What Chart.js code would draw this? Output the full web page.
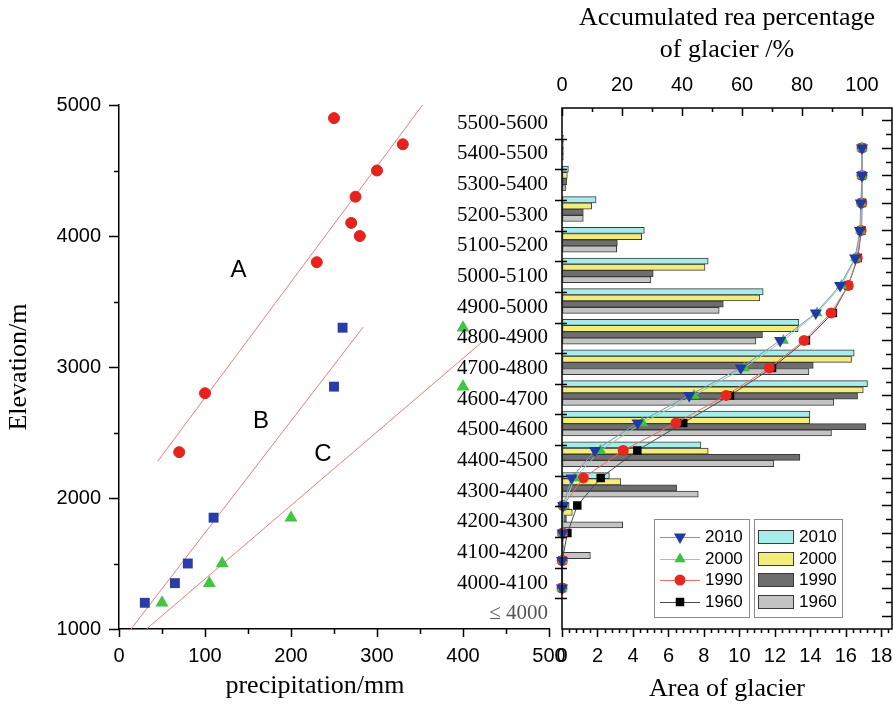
<!DOCTYPE html>
<html>
<head>
<meta charset="utf-8">
<script src="https://cdn.jsdelivr.net/npm/chart.js@4.4.1/dist/chart.umd.min.js"></script>
<style>
body { margin: 0; background: #fff; }
#wrap { position: relative; width: 893px; height: 705px; }
#wrap canvas { position: absolute; left: 0; top: 0; }
</style>
</head>
<body>
<div id="wrap">
  <canvas id="left" width="893" height="705"></canvas>
  <canvas id="right" width="893" height="705"></canvas>
</div>
<script>
const SANS = "'Liberation Sans', Arial, sans-serif";
const SERIF = "'Liberation Serif', 'Times New Roman', serif";

// left panel: precipitation vs elevation
const precipA = [250, 330, 300, 275, 270, 280, 230, 100, 70];
const elevA = [4900, 4700, 4500, 4300, 4100, 4000, 3800, 2800, 2350];
const precipB = [260, 250, 110, 80, 65, 30];
const elevB = [3300, 2850, 1850, 1500, 1350, 1200];
const precipC = [400, 400, 200, 120, 105, 50];
const elevC = [3300, 2850, 1850, 1500, 1350, 1200];
const fitA = [[45, 2280], [353, 5000]];
const fitB = [[14, 1000], [284, 3305]];
const fitC = [[32, 1000], [429, 3229]];
const curveNames = ['A', 'B', 'C'];
const curveNamePos = [[139, 3740], [165, 2588], [237, 2336]];

// right panel: glacier area per elevation band (top band first)
const bands = ['5500-5600', '5400-5500', '5300-5400', '5200-5300', '5100-5200', '5000-5100',
  '4900-5000', '4800-4900', '4700-4800', '4600-4700', '4500-4600', '4400-4500',
  '4300-4400', '4200-4300', '4100-4200', '4000-4100', '≤ 4000'];
const years = ['2010', '2000', '1990', '1960'];
const area2010 = [0, 0.08, 0.36, 1.92, 4.64, 8.24, 11.34, 13.35, 16.47, 17.22, 13.97, 7.83, 2.67, 0.4, 0.08, 0.05, 0];
const area2000 = [0, 0.08, 0.3, 1.67, 4.49, 8.06, 11.15, 13.31, 16.32, 16.98, 13.97, 8.24, 3.32, 0.58, 0.08, 0.05, 0];
const area1990 = [0, 0.08, 0.26, 1.2, 3.12, 5.14, 9.09, 11.3, 14.16, 16.66, 17.13, 13.41, 6.46, 0.25, 0.08, 0.05, 0];
const area1960 = [0, 0.08, 0.2, 1.2, 3.08, 5.01, 8.86, 10.93, 13.92, 15.32, 15.19, 11.94, 7.68, 3.42, 1.6, 0.05, 0];

// accumulated area percentage, lowest band (≤ 4000) first
const cum2010 = [0, 0, 0.2, 0.4, 3.2, 11.0, 25.2, 42.4, 59.6, 72.7, 84.6, 92.7, 97.7, 99.3, 99.6, 100, 100];
const cum2000 = [0, 0.05, 0.1, 0.7, 4.2, 12.8, 26.8, 44.0, 60.8, 73.8, 85.0, 93.2, 97.9, 99.6, 99.9, 100, 100];
const cum1990 = [0, 0.1, 0.2, 0.4, 7.1, 20.4, 38.0, 54.7, 69.1, 80.7, 89.7, 95.4, 98.4, 99.7, 99.9, 100, 100];
const cum1960 = [0, 0.1, 1.8, 5.1, 12.9, 25.1, 40.4, 56.0, 70.0, 81.3, 90.3, 95.4, 98.6, 99.8, 100, 100, 100];

const barColors = ['#a6ecea', '#f2ec78', '#6e6e6e', '#c4c4c4'];
const lineStyle = [
  { c: '#1f3aa6', l: '#7d8ee0', s: 'triangle', r: 7, rot: 180 },
  { c: '#3bc43b', l: '#8ad88a', s: 'triangle', r: 6.5, rot: 0 },
  { c: '#e6261f', l: '#ef6a62', s: 'circle', r: 5.5, rot: 0 },
  { c: '#000000', l: '#4a4a4a', s: 'rect', r: 6, rot: 0 }
];

function toPoints(xs, ys) {
  return xs.map((v, i) => ({ x: v, y: ys[i] }));
}

function marks(ctx, scale, values, at, len, sign) {
  ctx.beginPath();
  values.forEach(v => {
    const p = Math.round(scale.getPixelForValue(v)) + 0.5;
    if (scale.isHorizontal()) {
      ctx.moveTo(p, at);
      ctx.lineTo(p, at + sign * len);
    } else {
      ctx.moveTo(at, p);
      ctx.lineTo(at + sign * len, p);
    }
  });
  ctx.stroke();
}

// invisible tick marks only reserve space between axis line and labels
const hiddenTicks = len => ({ display: true, drawOnChartArea: false, drawTicks: true, tickLength: len, color: 'rgba(0,0,0,0)' });

// fixed axis box sizes, no label overflow padding
const fixH = h => s => { s.height = h; s.paddingLeft = 0; s.paddingRight = 0; };
const fixW = w => s => { s.width = w; s.paddingTop = 0; s.paddingBottom = 0; };

const leftDecor = {
  id: 'leftDecor',
  afterDraw(chart) {
    const ctx = chart.ctx;
    const { x, y } = chart.scales;
    const ca = chart.chartArea;
    ctx.save();
    ctx.strokeStyle = '#000';
    ctx.lineWidth = 1.5;
    marks(ctx, y, [1000, 2000, 3000, 4000, 5000], ca.left, 10, -1);
    marks(ctx, y, [1500, 2500, 3500, 4500], ca.left, 5, -1);
    marks(ctx, x, [0, 100, 200, 300, 400, 500], ca.bottom, 8, 1);
    marks(ctx, x, [50, 150, 250, 350, 450], ca.bottom, 5, 1);

    ctx.fillStyle = '#000';
    ctx.textAlign = 'center';
    ctx.textBaseline = 'middle';
    ctx.font = '24px ' + SANS;
    curveNames.forEach((n, i) => {
      ctx.fillText(n, x.getPixelForValue(curveNamePos[i][0]), y.getPixelForValue(curveNamePos[i][1]));
    });
    ctx.font = '26px ' + SERIF;
    ctx.fillText('precipitation/mm', 315, 686);
    ctx.restore();
  }
};

const fitLine = (pts) => ({
  data: pts.map(p => ({ x: p[0], y: p[1] })),
  showLine: true,
  borderColor: '#f07c7c',
  borderWidth: 1,
  pointRadius: 0
});

new Chart(document.getElementById('left'), {
  type: 'scatter',
  data: {
    datasets: [
      { data: toPoints(precipA, elevA), pointStyle: 'circle', pointRadius: 5.5, backgroundColor: '#e5221c', borderColor: '#e5221c', borderWidth: 1 },
      { data: toPoints(precipB, elevB), pointStyle: 'rect', pointRadius: 7, backgroundColor: '#2a3da6', borderColor: '#2a3da6', borderWidth: 0 },
      { data: toPoints(precipC, elevC), pointStyle: 'triangle', pointRadius: 7.5, backgroundColor: '#43c443', borderColor: '#43c443', borderWidth: 0, clip: false },
      fitLine(fitA),
      fitLine(fitB),
      fitLine(fitC)
    ]
  },
  options: {
    responsive: false,
    animation: false,
    devicePixelRatio: 1,
    layout: { autoPadding: false, padding: { top: 105, right: 344, left: 0, bottom: 0 } },
    plugins: { legend: { display: false }, tooltip: { enabled: false } },
    scales: {
      x: {
        type: 'linear', min: 0, max: 500,
        grid: { display: false, drawTicks: false },
        border: { display: true, color: '#000', width: 1.5 },
        ticks: { stepSize: 100, padding: 15, maxRotation: 0, color: '#000', font: { family: SANS, size: 20 }, callback: v => String(v) },
        afterFit: fixH(76)
      },
      y: {
        type: 'linear', min: 1000, max: 5000,
        grid: { display: false, drawTicks: false },
        border: { display: true, color: '#000', width: 1.5 },
        ticks: { stepSize: 1000, padding: 18, color: '#000', font: { family: SANS, size: 20 }, callback: v => String(v) },
        title: { display: true, text: 'Elevation/m', color: '#000', font: { family: SERIF, size: 26 }, padding: { top: 4, bottom: 0 } },
        afterFit: fixW(119)
      }
    }
  },
  plugins: [leftDecor]
});

const rightDecor = {
  id: 'rightDecor',
  afterDraw(chart) {
    const ctx = chart.ctx;
    const ca = chart.chartArea;
    const { x, x2, y, yl } = chart.scales;
    ctx.save();
    ctx.strokeStyle = '#000';
    ctx.lineWidth = 1.5;
    ctx.strokeRect(ca.left, ca.top, ca.right - ca.left, ca.bottom - ca.top);

    // bottom axis
    marks(ctx, x, [0, 2, 4, 6, 8, 10, 12, 14, 16, 18], ca.bottom, 8, 1);
    const minorX = [];
    for (let i = 1; i * 0.4 < x.max; i++) if (i % 5 !== 0) minorX.push(i * 0.4);
    marks(ctx, x, minorX, ca.bottom, 4, 1);
    // top axis, inward
    marks(ctx, x2, [0, 20, 40, 60, 80, 100], ca.top, 8, 1);
    marks(ctx, x2, [10, 30, 50, 70, 90], ca.top, 4, 1);
    // category boundaries on the left
    ctx.beginPath();
    const step = (y.bottom - y.top) / bands.length;
    for (let i = 1; i < bands.length; i++) {
      const p = Math.round(y.top + i * step) + 0.5;
      ctx.moveTo(ca.left - 7, p);
      ctx.lineTo(ca.left + 5, p);
    }
    ctx.stroke();
    // right axis, inward
    const majorK = [], minorK = [];
    for (let k = -1; k <= 17; k++) {
      if (k >= yl.min && k <= yl.max) majorK.push(k);
      if (k + 0.5 >= yl.min && k + 0.5 <= yl.max) minorK.push(k + 0.5);
    }
    marks(ctx, yl, majorK, ca.right, 10, -1);
    marks(ctx, yl, minorK, ca.right, 6, -1);

    // legends
    ctx.lineWidth = 1;
    ctx.strokeStyle = '#8a8a8a';
    ctx.strokeRect(654.5, 519.5, 95, 98);
    ctx.strokeRect(754.5, 519.5, 88, 98);
    const rows = [537, 559, 580, 602];
    ctx.font = '17px ' + SANS;
    ctx.textBaseline = 'middle';
    ctx.textAlign = 'left';
    lineStyle.forEach((st, i) => {
      const ry = rows[i];
      ctx.strokeStyle = st.l;
      ctx.beginPath();
      ctx.moveTo(660, ry + 0.5);
      ctx.lineTo(700, ry + 0.5);
      ctx.stroke();
      ctx.fillStyle = st.c;
      ctx.strokeStyle = st.c;
      Chart.helpers.drawPoint(ctx, { pointStyle: st.s, radius: st.r, rotation: st.rot, borderWidth: 0 }, 680, ry);
      ctx.fillStyle = '#000';
      ctx.fillText(years[i], 705, ry);

      ctx.fillStyle = barColors[i];
      ctx.fillRect(758, ry - 7, 36, 14);
      ctx.strokeStyle = '#3a3a3a';
      ctx.strokeRect(758.5, ry - 6.5, 35, 13);
      ctx.fillStyle = '#000';
      ctx.fillText(years[i], 799, ry);
    });
    ctx.restore();
  }
};

const barSets = [area2010, area2000, area1990, area1960].map((d, i) => ({
  type: 'bar',
  label: years[i],
  data: d,
  indexAxis: 'y',
  xAxisID: 'x',
  yAxisID: 'y',
  backgroundColor: barColors[i],
  borderColor: '#3a3a3a',
  borderWidth: 1,
  borderSkipped: false,
  barThickness: 6.2,
  order: 2
}));

const lineSets = [cum2010, cum2000, cum1990, cum1960].map((d, i) => ({
  type: 'line',
  label: years[i],
  data: d.map((v, k) => ({ x: v, y: k })),
  xAxisID: 'x2',
  yAxisID: 'yl',
  borderColor: lineStyle[i].l,
  borderWidth: 1,
  pointStyle: lineStyle[i].s,
  pointRadius: lineStyle[i].r,
  pointRotation: lineStyle[i].rot,
  pointBackgroundColor: lineStyle[i].c,
  pointBorderColor: lineStyle[i].c,
  pointBorderWidth: 0,
  tension: 0,
  clip: false,
  order: 1
}));

new Chart(document.getElementById('right'), {
  type: 'bar',
  data: { labels: bands, datasets: lineSets.concat(barSets) },
  options: {
    responsive: false,
    animation: false,
    devicePixelRatio: 1,
    layout: { autoPadding: false, padding: { top: 0, right: 1, left: 0, bottom: 0 } },
    plugins: { legend: { display: false }, tooltip: { enabled: false } },
    scales: {
      x: {
        type: 'linear', position: 'bottom', min: 0, max: 18.6, offset: false,
        grid: hiddenTicks(15),
        border: { display: false },
        ticks: { stepSize: 2, includeBounds: false, padding: 0, maxRotation: 0, color: '#000', font: { family: SANS, size: 20 } },
        title: { display: true, text: 'Area of glacier', color: '#000', font: { family: SERIF, size: 26 }, padding: { top: 0, bottom: 0 } },
        afterFit: fixH(76)
      },
      x2: {
        type: 'linear', position: 'top', min: 0, max: 110, offset: false,
        grid: hiddenTicks(11),
        border: { display: false },
        ticks: { stepSize: 20, includeBounds: false, padding: 0, maxRotation: 0, color: '#000', font: { family: SANS, size: 20 } },
        title: { display: true, text: ['Accumulated rea percentage', 'of glacier /%'], color: '#000', font: { family: SERIF, size: 26, lineHeight: 1.2 }, padding: { top: 3, bottom: 0 } },
        afterFit: fixH(108)
      },
      y: {
        type: 'category', position: 'left', offset: true,
        grid: { display: false, drawTicks: false, offset: true },
        border: { display: false },
        ticks: {
          autoSkip: false, padding: 14,
          color: c => (c.index === bands.length - 1 ? '#555' : '#000'),
          font: { family: SERIF, size: 21 }
        },
        afterFit: fixW(562)
      },
      yl: { type: 'linear', position: 'right', display: false, min: -1.49, max: 17.45, offset: false }
    }
  },
  plugins: [rightDecor]
});
</script>
</body>
</html>
